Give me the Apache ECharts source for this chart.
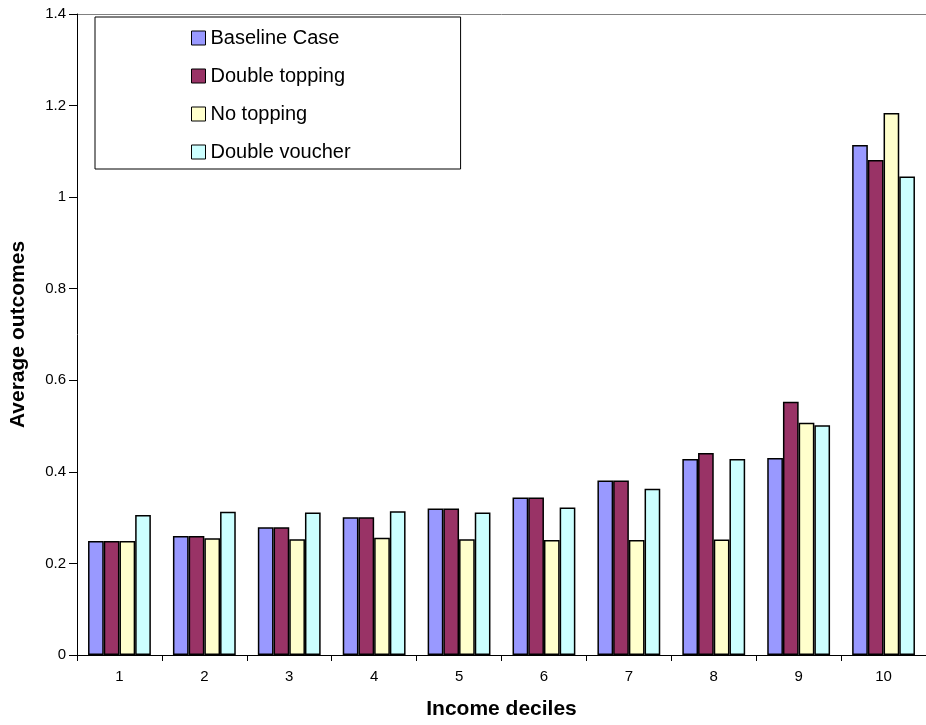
<!DOCTYPE html>
<html>
<head>
<meta charset="utf-8">
<script src="https://cdn.jsdelivr.net/npm/echarts@6/dist/echarts.min.js"></script>
<style>html,body{margin:0;padding:0;background:#fff}#c{width:926px;height:725px}</style>
</head>
<body>
<div id="c"></div>
<script>
var categories = ['1','2','3','4','5','6','7','8','9','10'];
var baselineCase = [0.249, 0.260, 0.279, 0.301, 0.320, 0.344, 0.381, 0.428, 0.430, 1.114];
var doubleTopping = [0.249, 0.260, 0.279, 0.301, 0.320, 0.344, 0.381, 0.441, 0.553, 1.081];
var noTopping = [0.249, 0.255, 0.253, 0.256, 0.253, 0.251, 0.251, 0.252, 0.507, 1.184];
var doubleVoucher = [0.306, 0.313, 0.311, 0.314, 0.311, 0.322, 0.363, 0.428, 0.502, 1.045];
var seriesNames = ['Baseline Case', 'Double topping', 'No topping', 'Double voucher'];
var colors = ['#9999FF', '#993366', '#FFFFCC', '#CCFFFF'];
var allData = [baselineCase, doubleTopping, noTopping, doubleVoucher];

var font = 'Arial, "Liberation Sans", sans-serif';
var none = 'rgba(0,0,0,0)';
var chart = echarts.init(document.getElementById('c'));
chart.setOption({
  animation: false,
  backgroundColor: '#fff',
  textStyle: { fontFamily: font },
  grid: { left: 77, width: 852, top: 14, bottom: 70, show: false, containLabel: false },
  legend: {
    left: 95, top: 17,
    orient: 'vertical',
    data: seriesNames,
    itemWidth: 14, itemHeight: 14, itemGap: 18,
    padding: [11, 110, 7, 96],
    borderColor: '#000', borderWidth: 1, backgroundColor: '#fff',
    textStyle: { fontSize: 20, color: '#000', fontFamily: font },
    icon: 'rect',
    itemStyle: { borderColor: '#000', borderWidth: 1 }
  },
  xAxis: {
    type: 'category', data: categories,
    name: 'Income deciles', nameLocation: 'middle', nameGap: 44,
    nameTextStyle: { fontSize: 21, fontWeight: 'bold', color: '#000', fontFamily: font },
    axisLine: { lineStyle: { color: '#000', width: 1 } },
    axisTick: { show: true, length: 6, lineStyle: { color: '#000' } },
    axisLabel: { fontSize: 15, color: '#000', margin: 14, fontFamily: font }
  },
  yAxis: {
    type: 'value', min: 0, max: 1.4, interval: 0.2,
    name: 'Average outcomes', nameLocation: 'middle', nameGap: 48,
    nameTextStyle: { fontSize: 21, fontWeight: 'bold', color: '#000', fontFamily: font },
    axisLine: { show: true, lineStyle: { color: '#000', width: 1 } },
    axisTick: { show: true, length: 8, lineStyle: { color: '#000' } },
    axisLabel: { fontSize: 15, color: '#000', margin: 11, fontFamily: font },
    splitLine: { show: true, lineStyle: { color: [none, none, none, none, none, none, none, '#808080'], width: 1 } }
  },
  series: seriesNames.map(function (n, i) {
    return {
      name: n, type: 'bar', data: allData[i],
      barGap: '0%', barCategoryGap: '26%',
      itemStyle: { color: colors[i], borderColor: '#000', borderWidth: 1.5 }
    };
  })
});
</script>
</body>
</html>
